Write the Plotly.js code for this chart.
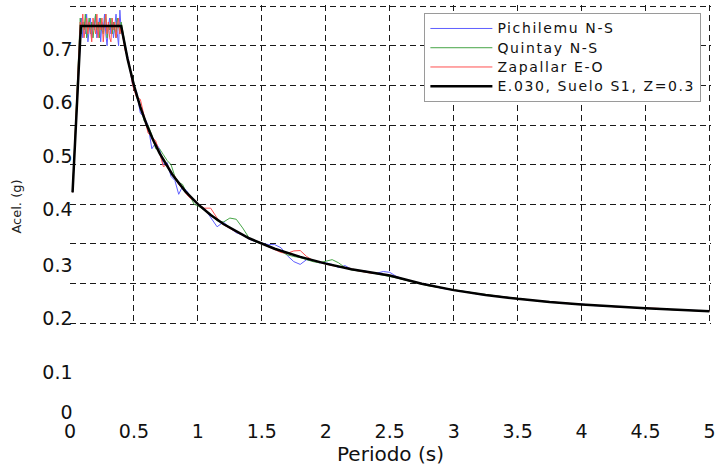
<!DOCTYPE html>
<html><head><meta charset="utf-8">
<script src="https://cdn.plot.ly/plotly-3.0.1.min.js"></script>
<style>html,body{margin:0;padding:0;background:#fff}
.legendtext{letter-spacing:1.6px;font-size:14px !important}
</style>
</head><body><div id="chart" style="width:718px;height:470px"></div>
<script>
// Periods (s) of the recorded spectra
const periods = [0.02,
 0.08,0.09,0.10,0.11,0.12,0.13,0.14,0.15,0.16,0.17,0.18,0.19,0.20,0.21,0.22,0.23,0.24,0.25,0.26,0.27,0.28,0.29,0.30,0.31,0.32,0.33,0.34,0.35,0.36,0.37,0.38,0.39,0.40,
 0.43,0.46,0.49,0.52,0.55,0.58,0.61,0.64,0.67,0.70,0.73,0.76,0.79,0.82,0.85,0.88,0.91,0.94,0.97,1.00,
 1.05,1.10,1.15,1.20,1.25,1.30,1.35,1.40,1.45,1.50,1.55,1.60,1.65,1.70,1.75,1.80,1.85,1.90,1.95,2.00,2.05,2.10,2.15,2.20,2.25,2.30,2.35,2.40,2.45,2.50,2.55,2.60,
 2.7,2.8,2.9,3.0,3.1,3.2,3.3,3.4,3.5,3.6,3.7,3.8,3.9,4.0,4.1,4.2,4.3,4.4,4.5,4.6,4.7,4.8,4.9,5.0];

const pichilemuNS = [0.33,
 0.74,0.77,0.72,0.76,0.73,0.78,0.71,0.75,0.77,0.72,0.76,0.74,0.78,0.72,0.75,0.77,0.71,0.76,0.74,0.78,0.73,0.70,0.75,0.77,0.73,0.76,0.72,0.75,0.78,0.73,0.70,0.79,0.74,
 0.70,0.66,0.60,0.585,0.53,0.52,0.50,0.44,0.455,0.44,0.40,0.405,0.37,0.36,0.325,0.345,0.335,0.32,0.31,0.298,
 0.29,0.265,0.243,0.255,0.24,0.228,0.222,0.212,0.205,0.202,0.198,0.198,0.19,0.17,0.155,0.148,0.16,0.157,0.152,0.152,0.148,0.14,0.145,0.136,0.133,0.132,0.128,0.126,0.13,0.128,0.118,0.112,
 0.103,0.097,0.088,0.083,0.079,0.072,0.069,0.066,0.061,0.058,0.055,0.052,0.049,0.048,0.044,0.043,0.040,0.039,0.037,0.036,0.034,0.033,0.031,0.030];

const quintayNS = [0.33,
 0.77,0.73,0.76,0.74,0.78,0.72,0.75,0.77,0.73,0.76,0.72,0.75,0.78,0.74,0.76,0.72,0.77,0.74,0.73,0.76,0.78,0.72,0.75,0.74,0.77,0.73,0.76,0.74,0.72,0.77,0.75,0.73,0.76,
 0.70,0.65,0.62,0.57,0.55,0.51,0.50,0.475,0.44,0.44,0.425,0.41,0.40,0.37,0.355,0.35,0.33,0.32,0.30,0.296,
 0.285,0.275,0.258,0.255,0.265,0.262,0.24,0.215,0.205,0.20,0.195,0.188,0.18,0.172,0.168,0.165,0.16,0.155,0.152,0.156,0.16,0.152,0.14,0.134,0.132,0.13,0.127,0.124,0.121,0.118,0.114,0.11,
 0.102,0.094,0.089,0.084,0.078,0.074,0.070,0.066,0.061,0.058,0.054,0.052,0.049,0.047,0.045,0.042,0.041,0.039,0.037,0.035,0.034,0.032,0.031,0.029];

const zapallarEO = [0.33,
 0.76,0.74,0.78,0.72,0.75,0.77,0.73,0.76,0.74,0.71,0.77,0.75,0.73,0.78,0.72,0.76,0.74,0.77,0.71,0.75,0.78,0.73,0.76,0.72,0.71,0.77,0.74,0.76,0.72,0.75,0.77,0.73,0.75,
 0.69,0.66,0.60,0.57,0.565,0.52,0.48,0.47,0.46,0.43,0.395,0.40,0.38,0.37,0.35,0.34,0.325,0.315,0.31,0.30,
 0.29,0.29,0.265,0.248,0.238,0.23,0.222,0.213,0.207,0.20,0.193,0.186,0.178,0.176,0.182,0.183,0.168,0.158,0.153,0.149,0.145,0.143,0.14,0.137,0.132,0.129,0.126,0.125,0.122,0.12,0.115,0.111,
 0.104,0.095,0.089,0.083,0.078,0.073,0.069,0.065,0.061,0.058,0.055,0.052,0.049,0.047,0.045,0.042,0.040,0.039,0.038,0.037,0.034,0.032,0.031,0.030];

// Design spectrum E.030
const designPeriods = [0.02,0.085,0.4,0.45,0.5,0.55,0.6,0.65,0.7,0.8,0.9,1.0,1.1,1.2,1.4,1.6,1.8,2.0,2.2,2.4,2.5,2.75,3.0,3.25,3.5,3.75,4.0,4.5,5.0];
const designE030   = [0.33,0.75,0.75,0.667,0.60,0.545,0.50,0.462,0.429,0.375,0.333,0.30,0.273,0.25,0.214,0.1875,0.167,0.15,0.136,0.125,0.12,0.099,0.083,0.071,0.061,0.053,0.047,0.037,0.030];

const seriesNames = ["Pichilemu N-S","Quintay N-S","Zapallar E-O","E.030, Suelo S1, Z=0.3"];
const seriesColors = ["rgb(95,95,255)","rgb(70,165,70)","rgb(255,80,80)","#000000"];

const xTickValues = [0,0.5,1,1.5,2,2.5,3,3.5,4,4.5,5];
const xTickLabels = ["0","0.5","1","1.5","2","2.5","3","3.5","4","4.5","5"];
const yGridValues = [0,0.1,0.2,0.3,0.4,0.5,0.6,0.7,0.8];
const yTickLabels = ["0.7","0.6","0.5","0.4","0.3","0.2","0.1","0"];
// label placement along the left edge (pixels above the lower edge of the frame)
const yTickPlaces = [369,316,262,209,153,100,46,6];

const F = "DejaVu Sans, sans-serif";

const records = [pichilemuNS, quintayNS, zapallarEO];
const traces = records.map((vals, i) => ({
  x: periods, y: vals, type: "scatter", mode: "lines",
  name: seriesNames[i], line: {color: seriesColors[i], width: 1},
  xaxis: "x", yaxis: "y"
}));
traces.push({
  x: designPeriods, y: designE030, type: "scatter", mode: "lines",
  name: seriesNames[3], line: {color: seriesColors[3], width: 2.5},
  xaxis: "x", yaxis: "y"
});
// empty carrier for the labelling axes (draws nothing)
traces.push({x: [], y: [], type: "scatter", mode: "lines", xaxis: "x2", yaxis: "y2",
  showlegend: false, hoverinfo: "skip"});

const H = 413;
const layout = {
  width: 718, height: 470,
  margin: {l: 70, r: 6.5, t: 5, b: 52},
  paper_bgcolor: "#fff", plot_bgcolor: "rgba(0,0,0,0)",
  font: {family: F, color: "#111"},
  showlegend: true,
  legend: {
    x: 0.985, xanchor: "right", y: 0.981, yanchor: "top",
    bgcolor: "#fff", bordercolor: "#9a9a9a", borderwidth: 1,
    font: {family: F, size: 12.5, color: "#111"},
    itemwidth: 62, tracegroupgap: 0
  },
  xaxis: {
    range: [0, 5.012], domain: [0, 1], anchor: "y",
    tickmode: "array", tickvals: xTickValues, showticklabels: false, ticks: "",
    showgrid: true, gridcolor: "#1a1a1a", gridwidth: 1, griddash: "6px,4px",
    zeroline: false, showline: false
  },
  yaxis: {
    range: [-0.003, 0.803], domain: [(418 - 324.2) / H, 1], anchor: "x",
    tickmode: "array", tickvals: yGridValues, showticklabels: false, ticks: "",
    showgrid: true, gridcolor: "#1a1a1a", gridwidth: 1, griddash: "6px,4px",
    zeroline: false, showline: false
  },
  xaxis2: {
    range: [0, 5.012], domain: [0, 1], anchor: "y2",
    tickmode: "array", tickvals: xTickValues, ticktext: xTickLabels, ticks: "",
    tickfont: {family: F, size: 19, color: "#111"},
    showgrid: false, zeroline: false, showline: false,
    title: {text: "Periodo (s)", font: {family: F, size: 20, color: "#111"}, standoff: 1}
  },
  yaxis2: {
    range: [0, H], domain: [0, 1], anchor: "free", position: 0.004,
    tickmode: "array", tickvals: yTickPlaces, ticktext: yTickLabels, ticks: "",
    tickfont: {family: F, size: 19, color: "#111"},
    showgrid: false, zeroline: false, showline: false
  },
  annotations: [{
    text: "Acel. (g)", xref: "paper", yref: "paper",
    x: (6 - 70) / 641.5, y: (418 - 207) / H, showarrow: false, textangle: -90,
    font: {family: F, size: 13, color: "#222"}
  }]
};

Plotly.newPlot("chart", traces, layout, {staticPlot: true, displayModeBar: false});
</script>
</body></html>
